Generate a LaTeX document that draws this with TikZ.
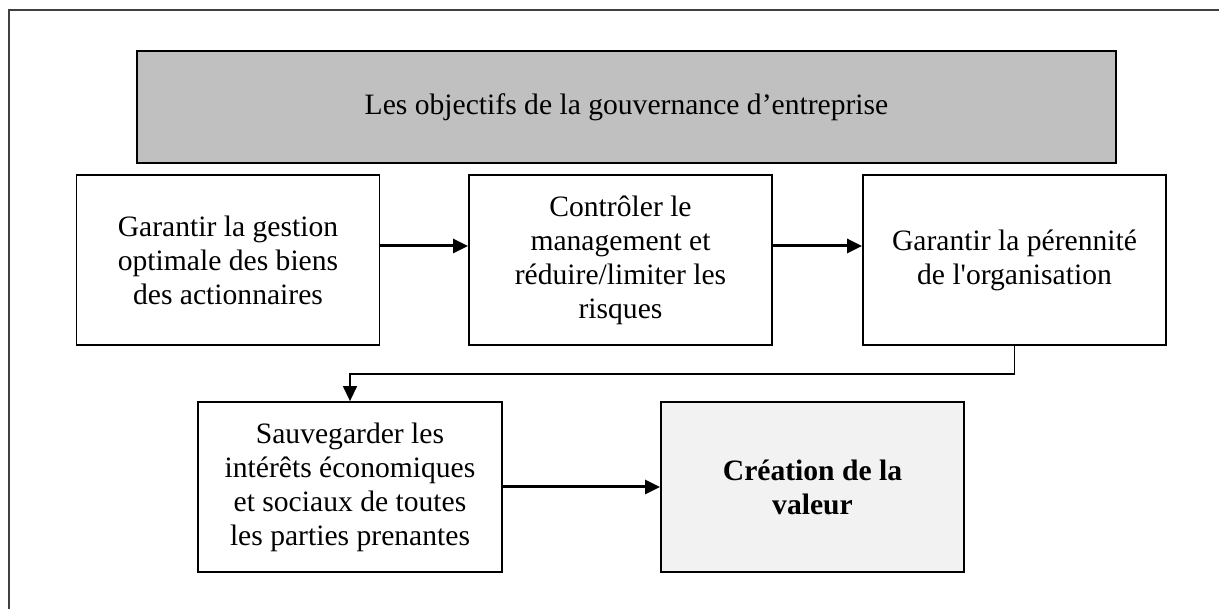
\documentclass[tikz,border=0pt]{standalone}
\usepackage{fontspec}
\setmainfont{Liberation Serif}[Ligatures=TeXOff]
\usetikzlibrary{arrows.meta}

\definecolor{headgray}{HTML}{C0C0C0}
\definecolor{lightfill}{HTML}{F2F2F2}
\definecolor{framegray}{HTML}{404040}

\tikzset{
  box/.style={draw=black, line width=1.8pt, rectangle, align=center,
    minimum width=303pt, minimum height=170pt, inner sep=0pt,
    font=\fontsize{29.6}{34}\selectfont},
  headbox/.style={box, fill=headgray, minimum width=979pt, minimum height=112pt},
  goalbox/.style={box, fill=lightfill, font=\fontsize{29.6}{34}\selectfont\bfseries},
  flow/.style={line width=3pt, -{Triangle[length=15pt,width=14pt]}},
  link/.style={line width=1.4pt, -{Triangle[length=15pt,width=14pt]}},
}

\begin{document}
\begin{tikzpicture}[x=1pt, y=-1pt]
  \useasboundingbox (0,0) rectangle (1219,609);

  % open frame: top and left rules
  \draw[framegray, line width=1.4pt] (1219,10) -- (9,10) -- (9,609);

  % heading
  \node[headbox] (head) at (626.5,107) {Les objectifs de la gouvernance d’entreprise};

  % first row
  \node[box] (b1) at (228,260) {Garantir la gestion\\optimale des biens\\des actionnaires};
  \node[box] (b2) at (620.5,260) {Contrôler le\\management et\\réduire/limiter les\\risques};
  \node[box] (b3) at (1014.5,260) {Garantir la pérennité\\de l'organisation};

  % second row
  \node[box, minimum width=304pt] (b4) at (350,487) {Sauvegarder les\\intérêts économiques\\et sociaux de toutes\\les parties prenantes};
  \node[goalbox] (b5) at (812.5,487) {Création de la\\valeur};

  % connectors
  \draw[flow] ([yshift=14pt]b1.east) -- ([yshift=14pt]b2.west);
  \draw[flow] ([yshift=14pt]b2.east) -- ([yshift=14pt]b3.west);
  \draw[link] (b3.south) -- ++(0,28) -| (b4.north);
  \draw[flow] (b4.east) -- (b5.west);
\end{tikzpicture}
\end{document}
